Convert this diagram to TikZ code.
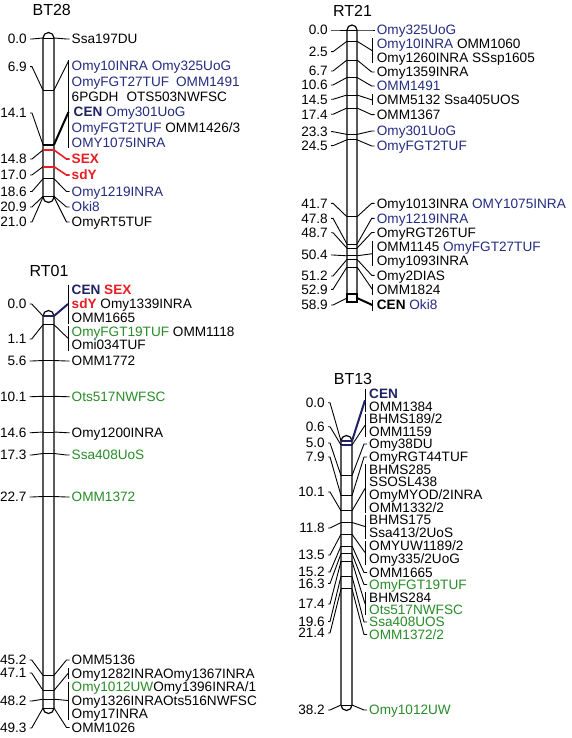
\documentclass[tikz,border=0pt]{standalone}
\usepackage{fontspec}
\setmainfont{Liberation Sans}
\usetikzlibrary{calc}
\definecolor{mblue}{RGB}{36,44,128}
\definecolor{mgreen}{RGB}{40,140,40}
\definecolor{mred}{RGB}{232,30,36}
\definecolor{cnavy}{RGB}{30,34,100}
\newcommand{\mkB}[1]{\textcolor{mblue}{#1}}
\newcommand{\mkG}[1]{\textcolor{mgreen}{#1}}
\newcommand{\mkR}[1]{\textcolor{mred}{\bfseries #1}}
\newcommand{\mkC}[1]{\textcolor{cnavy}{\bfseries #1}}
% right connector: chromosome point -> label
\newcommand{\rcon}[3][]{\draw[conn,#1] (#2) -- ([xshift=-5pt]#3.west) -- ([xshift=-2pt]#3.west);}
% group bar spanning label rows
\newcommand{\gbar}[3]{\draw[conn] ([xshift=-#1,yshift=5.5pt]#2.west) -- ([xshift=-#1,yshift=-5.5pt]#3.west);}
% connector to bar middle
\newcommand{\gcon}[5][]{\draw[conn,#1] (#2) -- ($([xshift=-#5]#3.west)!0.5!([xshift=-#5]#4.west)$);}
\begin{document}
\begin{tikzpicture}[x=1pt,y=-1pt,
  lab/.style={font=\fontsize{13.6}{15}\selectfont, inner sep=0pt, text height=9.7pt, text depth=0pt},
  ttl/.style={font=\fontsize{16}{18}\selectfont, inner sep=0pt, text height=11.5pt, text depth=0pt},
  conn/.style={line width=0.9pt},
  chrom/.style={line width=1.2pt, fill=white},
  band/.style={line width=0.9pt},
  cenband/.style={line width=2.2pt}]
\fill[white] (0,0) rectangle (572,738);
\useasboundingbox (0,0) rectangle (572,738);

%================ BT28 =================
\node[ttl] (t28) at (51.7,10) {BT28};
\draw[chrom] (43,38) arc[start angle=180,end angle=0,radius=5.5pt] -- (54,197) arc[start angle=0,end angle=-180,radius=5.5pt] -- cycle;
\foreach \by in {38,90.2,178.8,196.3} \draw[band] (43,\by) -- (54,\by);
\draw[cenband] (43,144.7) -- (54,144.7);
\draw[cenband,mred] (42,150) -- (55,150);
\draw[cenband,mred] (42,166.7) -- (55,166.7);
\foreach \t/\ly/\by [count=\i] in {0.0/39/38,6.9/66.7/90.2,14.1/113/144.7,14.8/159/150,17.0/175/166.7,18.6/191.5/178.8,20.9/207/196.3,21.0/222/197}{
  \node[lab,anchor=east] (al\i) at (27,\ly) {\t};
  \coordinate (acl\i) at (43,\by);
  \coordinate (acr\i) at (54,\by);
  \draw[conn] ([xshift=3pt]al\i.east) -- ([xshift=5pt]al\i.east) -- (acl\i);
}
\node[lab,anchor=west] (ar1) at (71.5,39) {Ssa197DU};
\node[lab,anchor=west] (ar2) at (71.5,66) {\mkB{Omy10INRA} \mkB{Omy325UoG}};
\node[lab,anchor=west] (ar3) at (71.5,81.5) {\mkB{OmyFGT27TUF}\hspace{7pt}\mkB{OMM1491}};
\node[lab,anchor=west] (ar4) at (71.5,97) {6PGDH\hspace{8pt}OTS503NWFSC};
\node[lab,anchor=west] (ar5) at (71.5,112) {\hspace{2pt}\mkC{CEN} \mkB{Omy301UoG}};
\node[lab,anchor=west] (ar6) at (71.5,127.5) {\mkB{OmyFGT2TUF} OMM1426/3};
\node[lab,anchor=west] (ar7) at (71.5,143) {\mkB{OMY1075INRA}};
\node[lab,anchor=west] (ar8) at (71.5,159) {\mkR{SEX}};
\node[lab,anchor=west] (ar9) at (71.5,175) {\mkR{sdY}};
\node[lab,anchor=west] (ar10) at (71.5,191.5) {\mkB{Omy1219INRA}};
\node[lab,anchor=west] (ar11) at (71.5,207) {\mkB{Oki8}};
\node[lab,anchor=west] (ar12) at (71.5,222) {OmyRT5TUF};
\rcon{acr1}{ar1}
\draw[conn] ([xshift=-3pt,yshift=6pt]ar2.west) -- ([xshift=-3pt,yshift=-5pt]ar7.west);
\draw[conn] (acr2) -- ([xshift=-3pt,yshift=5pt]ar2.west);
\draw[line width=2pt] (acr3) -- ([xshift=-3pt]ar5.west);
\rcon[mred,line width=1.6pt]{acr4}{ar8}
\rcon[mred,line width=1.6pt]{acr5}{ar9}
\rcon{acr6}{ar10}
\rcon{acr7}{ar11}
\rcon{acr8}{ar12}

%================ RT01 =================
\node[ttl] (t01) at (49,270.7) {RT01};
\draw[chrom] (43,316) arc[start angle=180,end angle=0,radius=5.5pt] -- (54,708) arc[start angle=0,end angle=-180,radius=5.5pt] -- cycle;
\foreach \by in {324.7,360.5,396.3,432,453.5,496.5,675.3,690.4,699.2,708} \draw[band] (43,\by) -- (54,\by);
\draw[cenband,cnavy] (43,316) -- (54,316);
\foreach \t/\ly/\by [count=\i] in {0.0/304/316,1.1/339/324.7,5.6/361/360.5,10.1/396.7/396.3,14.6/432.7/432,17.3/455/453.5,22.7/497/496.5,45.2/660/675.3,47.1/673/690.4,48.2/701/699.2,49.3/728/708}{
  \node[lab,anchor=east] (bl\i) at (26.7,\ly) {\t};
  \coordinate (bcl\i) at (43,\by);
  \coordinate (bcr\i) at (54,\by);
  \draw[conn] ([xshift=3pt]bl\i.east) -- ([xshift=5pt]bl\i.east) -- (bcl\i);
}
\node[lab,anchor=west] (br1) at (71.5,290) {\mkC{CEN} \mkR{SEX}};
\node[lab,anchor=west] (br2) at (71.5,304) {\mkR{sdY} Omy1339INRA};
\node[lab,anchor=west] (br3) at (71.5,318) {OMM1665};
\node[lab,anchor=west] (br4) at (71.5,331.5) {\mkG{OmyFGT19TUF} OMM1118};
\node[lab,anchor=west] (br5) at (71.5,345) {Omi034TUF};
\node[lab,anchor=west] (br6) at (71.5,361) {OMM1772};
\node[lab,anchor=west] (br7) at (71.5,396.7) {\mkG{Ots517NWFSC}};
\node[lab,anchor=west] (br8) at (71.5,432.7) {Omy1200INRA};
\node[lab,anchor=west] (br9) at (71.5,455) {\mkG{Ssa408UoS}};
\node[lab,anchor=west] (br10) at (71.5,497) {\mkG{OMM1372}};
\node[lab,anchor=west] (br11) at (71.5,660) {OMM5136};
\node[lab,anchor=west] (br12) at (71.5,673.5) {Omy1282INRAOmy1367INRA};
\node[lab,anchor=west] (br13) at (71.5,687) {\mkG{Omy1012UW}Omy1396INRA/1};
\node[lab,anchor=west] (br14) at (71.5,700.5) {Omy1326INRAOts516NWFSC};
\node[lab,anchor=west] (br15) at (71.5,714) {Omy17INRA};
\node[lab,anchor=west] (br16) at (71.5,727.5) {OMM1026};
\gbar{3.5pt}{br1}{br3}
\draw[line width=2pt,cnavy] (bcr1) -- ([xshift=-3.5pt]br2.west);
\gbar{3.5pt}{br4}{br5}
\gcon{bcr2}{br4}{br5}{3.5pt}
\rcon{bcr3}{br6}
\rcon{bcr4}{br7}
\rcon{bcr5}{br8}
\rcon{bcr6}{br9}
\rcon{bcr7}{br10}
\rcon{bcr8}{br11}
\gbar{3.5pt}{br12}{br12}
\draw[conn] (bcr9) -- ([xshift=-3.5pt]br12.west);
\gbar{3.5pt}{br13}{br15}
\draw[conn] (bcr10) -- ([xshift=-3.5pt]br14.west);
\rcon{bcr11}{br16}

%================ RT21 =================
\node[ttl] (t21) at (352.5,10.5) {RT21};
\draw[chrom] (347,30) arc[start angle=180,end angle=0,radius=5pt] -- (357,302) -- (347,302) -- cycle;
\foreach \by in {30,41.2,60,77.5,95,108,134.4,139.8,216.8,244.1,248.2,255.8,259.4,267} \draw[band] (347,\by) -- (357,\by);
\draw[line width=1.2pt] (347,294) rectangle (357,302);
\foreach \t/\ly/\by [count=\i] in {0.0/30/30,2.5/51.7/41.2,6.7/71/60,10.6/85/77.5,14.5/99.3/95,17.4/114.3/108,23.3/131.7/134.4,24.5/145.7/139.8,41.7/203.3/216.8,47.8/218.3/244.1,48.7/232.7/248.2,50.4/255/255.8,51.2/276/259.4,52.9/289.3/267,58.9/305/298}{
  \node[lab,anchor=east] (cl\i) at (328,\ly) {\t};
  \coordinate (ccl\i) at (347,\by);
  \coordinate (ccr\i) at (357,\by);
  \draw[conn] ([xshift=3pt]cl\i.east) -- ([xshift=5pt]cl\i.east) -- (ccl\i);
}
\node[lab,anchor=west] (cr1) at (376.7,30) {\mkB{Omy325UoG}};
\node[lab,anchor=west] (cr2) at (376.7,43.5) {\mkB{Omy10INRA} OMM1060};
\node[lab,anchor=west] (cr3) at (376.7,58) {Omy1260INRA SSsp1605};
\node[lab,anchor=west] (cr4) at (376.7,72) {Omy1359INRA};
\node[lab,anchor=west] (cr5) at (376.7,86) {\mkB{OMM1491}};
\node[lab,anchor=west] (cr6) at (376.7,100) {OMM5132 Ssa405UOS};
\node[lab,anchor=west] (cr7) at (376.7,114.7) {OMM1367};
\node[lab,anchor=west] (cr8) at (376.7,131) {\mkB{Omy301UoG}};
\node[lab,anchor=west] (cr9) at (376.7,146) {\mkB{OmyFGT2TUF}};
\node[lab,anchor=west] (cr10) at (376.7,203.3) {Omy1013INRA \mkB{OMY1075INRA}};
\node[lab,anchor=west] (cr11) at (376.7,218.3) {\mkB{Omy1219INRA}};
\node[lab,anchor=west] (cr12) at (376.7,232.5) {OmyRGT26TUF};
\node[lab,anchor=west] (cr13) at (376.7,246.7) {OMM1145 \mkB{OmyFGT27TUF}};
\node[lab,anchor=west] (cr14) at (376.7,260.7) {Omy1093INRA};
\node[lab,anchor=west] (cr15) at (376.7,275.3) {Omy2DIAS};
\node[lab,anchor=west] (cr16) at (376.7,289.3) {OMM1824};
\node[lab,anchor=west] (cr17) at (376.7,305) {\textbf{CEN} \mkB{Oki8}};
\rcon{ccr1}{cr1}
\gbar{4.4pt}{cr2}{cr3}
\gcon{ccr2}{cr2}{cr3}{4.4pt}
\rcon{ccr3}{cr4}
\rcon{ccr4}{cr5}
\gbar{4.4pt}{cr6}{cr6}
\draw[conn] (ccr5) -- ([xshift=-4.4pt]cr6.west);
\rcon{ccr6}{cr7}
\rcon{ccr7}{cr8}
\rcon{ccr8}{cr9}
\rcon{ccr9}{cr10}
\rcon{ccr10}{cr11}
\rcon{ccr11}{cr12}
\gbar{4.4pt}{cr13}{cr14}
\gcon{ccr12}{cr13}{cr14}{4.4pt}
\rcon{ccr13}{cr15}
\gbar{4.4pt}{cr16}{cr16}
\draw[conn] (ccr14) -- ([xshift=-4.4pt]cr16.west);
\gbar{4.4pt}{cr17}{cr17}
\draw[line width=2pt] (ccr15) -- ([xshift=-4.4pt]cr17.west);

%================ BT13 =================
\node[ttl] (t13) at (353,379) {BT13};
\draw[chrom] (341,441) arc[start angle=180,end angle=0,radius=5.5pt] -- (352,705) arc[start angle=0,end angle=-180,radius=5.5pt] -- cycle;
\foreach \by in {475.6,495.6,510.8,522.5,534.3,546,553.6,561.2,576.4,588.9,705} \draw[band] (341,\by) -- (352,\by);
\draw[cenband,cnavy] (341,441) -- (352,441);
\draw[cenband,cnavy] (341,445) -- (352,445);
\foreach \t/\ly/\by [count=\i] in {0.0/402.7/441,0.6/426.7/445,5.0/443/475.6,7.9/457/495.6,10.1/492/510.8,11.8/528/522.5,13.5/555/534.3,15.2/572/546,16.3/583.5/553.6,17.4/604/561.2,19.6/621.5/576.4,21.4/633/588.9,38.2/710/705}{
  \node[lab,anchor=east] (dl\i) at (325,\ly) {\t};
  \coordinate (dcl\i) at (341,\by);
  \coordinate (dcr\i) at (352,\by);
  \draw[conn] ([xshift=3pt]dl\i.east) -- ([xshift=5pt]dl\i.east) -- (dcl\i);
}
\node[lab,anchor=west] (dr1) at (369,394) {\mkC{CEN}};
\node[lab,anchor=west] (dr2) at (369,406.5) {OMM1384};
\node[lab,anchor=west] (dr3) at (369,419) {BHMS189/2};
\node[lab,anchor=west] (dr4) at (369,431.7) {OMM1159};
\node[lab,anchor=west] (dr5) at (369,444) {Omy38DU};
\node[lab,anchor=west] (dr6) at (369,457) {OmyRGT44TUF};
\node[lab,anchor=west] (dr7) at (369,469.5) {BHMS285};
\node[lab,anchor=west] (dr8) at (369,482) {SSOSL438};
\node[lab,anchor=west] (dr9) at (369,495) {OmyMYOD/2INRA};
\node[lab,anchor=west] (dr10) at (369,507.5) {OMM1332/2};
\node[lab,anchor=west] (dr11) at (369,520) {BHMS175};
\node[lab,anchor=west] (dr12) at (369,533) {Ssa413/2UoS};
\node[lab,anchor=west] (dr13) at (369,546) {OMYUW1189/2};
\node[lab,anchor=west] (dr14) at (369,559) {Omy335/2UoG};
\node[lab,anchor=west] (dr15) at (369,572.5) {OMM1665};
\node[lab,anchor=west] (dr16) at (369,584.5) {\mkG{OmyFGT19TUF}};
\node[lab,anchor=west] (dr17) at (369,597.5) {BHMS284};
\node[lab,anchor=west] (dr18) at (369,609.8) {\mkG{Ots517NWFSC}};
\node[lab,anchor=west] (dr19) at (369,622) {\mkG{Ssa408UOS}};
\node[lab,anchor=west] (dr20) at (369,634.5) {\mkG{OMM1372/2}};
\node[lab,anchor=west] (dr21) at (369,710) {\mkG{Omy1012UW}};
\gbar{4pt}{dr1}{dr2}
\gcon[line width=2pt,cnavy]{dcr1}{dr1}{dr2}{4pt}
\gbar{4pt}{dr3}{dr4}
\gcon{dcr2}{dr3}{dr4}{4pt}
\rcon{dcr3}{dr5}
\rcon{dcr4}{dr6}
\gbar{4pt}{dr7}{dr10}
\gcon{dcr5}{dr7}{dr10}{4pt}
\gbar{4pt}{dr11}{dr12}
\gcon{dcr6}{dr11}{dr12}{4pt}
\gbar{4pt}{dr13}{dr14}
\gcon{dcr7}{dr13}{dr14}{4pt}
\rcon{dcr8}{dr15}
\rcon{dcr9}{dr16}
\gbar{4pt}{dr17}{dr18}
\gcon{dcr10}{dr17}{dr18}{4pt}
\rcon{dcr11}{dr19}
\rcon{dcr12}{dr20}
\rcon{dcr13}{dr21}
\end{tikzpicture}
\end{document}
